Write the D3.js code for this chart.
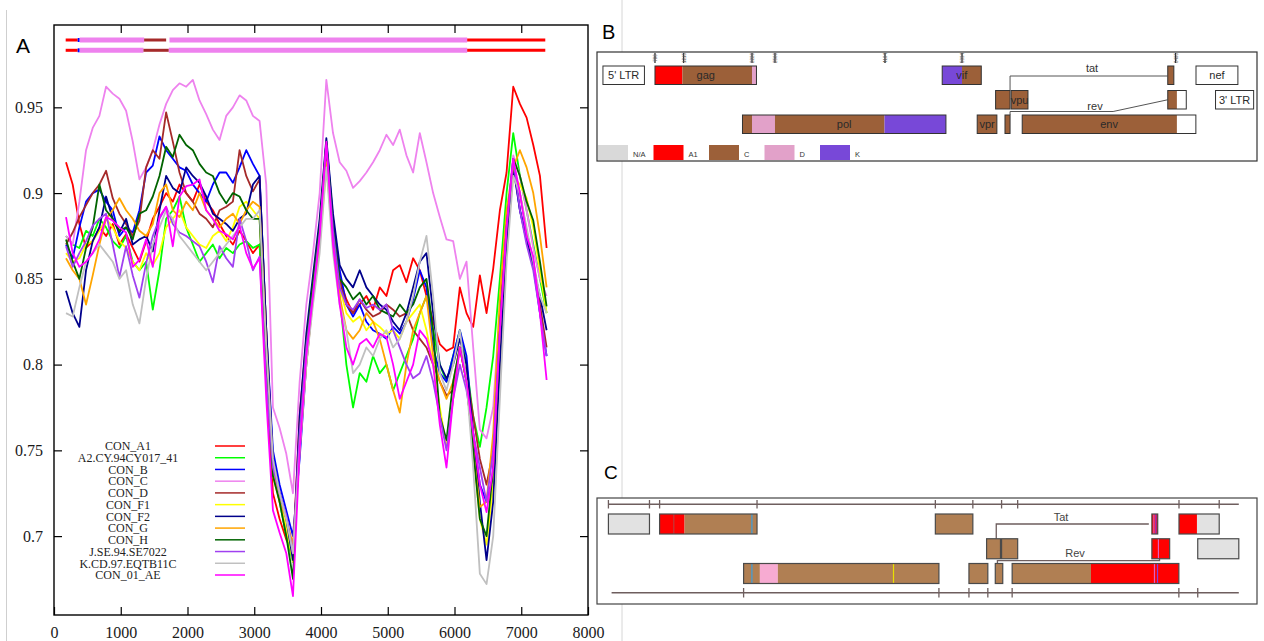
<!DOCTYPE html>
<html><head><meta charset="utf-8">
<script src="https://cdn.jsdelivr.net/npm/d3@7"></script>
<style>body{margin:0;background:#fff;} svg{display:block} .ax text{font-family:"Liberation Serif","Times New Roman",serif !important;}</style>
</head><body>
<svg id="c" width="1264" height="641"></svg>
<script>
// ---------------- DATA : panel A ----------------
const positions = [180,280,380,480,580,680,780,880,980,1080,1180,1280,1380,1480,1580,1680,1780,1880,1980,2080,
 2180,2280,2380,2480,2580,2680,2780,2880,2980,3080,3180,3280,3380,3480,3580,3680,3780,3880,3980,4080,
 4180,4280,4380,4480,4580,4680,4780,4880,4980,5080,5180,5280,5380,5480,5580,5680,5780,5880,5980,6080,
 6180,6280,6380,6480,6580,6680,6780,6880,6980,7080,7180,7280,7380];

const conA1 = [0.918,0.905,0.882,0.868,0.872,0.880,0.875,0.882,0.870,0.876,0.868,0.860,0.872,0.885,0.892,0.900,0.895,0.905,0.900,0.895,0.905,0.895,0.890,0.882,0.875,0.870,0.878,0.872,0.865,0.870,
 0.790,0.725,0.710,0.698,0.690,0.770,0.815,0.845,0.878,0.922,0.880,0.850,
 0.838,0.830,0.835,0.840,0.832,0.845,0.840,0.855,0.858,0.848,0.862,0.855,0.840,0.825,0.812,0.808,0.810,0.845,0.830,0.822,0.852,0.830,0.856,0.890,0.912,0.962,0.952,0.944,0.928,0.910,0.868];
const a2CY = [0.875,0.870,0.868,0.878,0.875,0.885,0.880,0.872,0.868,0.875,0.860,0.855,0.860,0.832,0.855,0.885,0.890,0.898,0.880,0.870,0.860,0.865,0.870,0.862,0.868,0.865,0.870,0.872,0.868,0.870,
 0.800,0.740,0.720,0.700,0.685,0.755,0.805,0.842,0.875,0.925,0.875,0.840,
 0.800,0.775,0.795,0.790,0.805,0.795,0.800,0.785,0.795,0.805,0.815,0.830,0.840,0.820,0.800,0.790,0.805,0.820,0.800,0.770,0.752,0.775,0.805,0.850,0.900,0.935,0.910,0.890,0.870,0.850,0.830];
const conB = [0.870,0.862,0.880,0.895,0.900,0.902,0.895,0.890,0.875,0.880,0.877,0.890,0.912,0.916,0.933,0.925,0.920,0.915,0.913,0.905,0.900,0.895,0.905,0.912,0.912,0.906,0.915,0.925,0.917,0.910,
 0.820,0.750,0.730,0.715,0.700,0.745,0.800,0.840,0.875,0.930,0.885,0.855,
 0.835,0.828,0.835,0.825,0.820,0.818,0.815,0.822,0.818,0.825,0.838,0.855,0.845,0.810,0.795,0.790,0.805,0.820,0.805,0.760,0.730,0.720,0.735,0.800,0.870,0.918,0.890,0.875,0.858,0.830,0.805];
const conC = [0.875,0.870,0.895,0.925,0.938,0.945,0.962,0.958,0.955,0.948,0.930,0.908,0.915,0.925,0.940,0.952,0.960,0.964,0.962,0.966,0.954,0.946,0.937,0.931,0.945,0.950,0.957,0.954,0.945,0.942,
 0.905,0.775,0.763,0.748,0.725,0.790,0.835,0.865,0.900,0.966,0.935,0.918,
 0.913,0.903,0.907,0.912,0.918,0.925,0.934,0.928,0.937,0.922,0.912,0.935,0.918,0.900,0.886,0.873,0.872,0.850,0.860,0.810,0.762,0.757,0.775,0.835,0.885,0.922,0.910,0.890,0.868,0.850,0.840];
const conD = [0.870,0.877,0.886,0.893,0.900,0.905,0.913,0.897,0.888,0.882,0.875,0.884,0.915,0.925,0.920,0.947,0.930,0.912,0.900,0.895,0.888,0.885,0.880,0.890,0.892,0.895,0.925,0.910,0.901,0.908,
 0.820,0.740,0.725,0.710,0.690,0.755,0.805,0.840,0.875,0.925,0.878,0.848,
 0.835,0.830,0.838,0.832,0.828,0.830,0.835,0.832,0.828,0.830,0.820,0.815,0.810,0.800,0.790,0.782,0.785,0.810,0.795,0.770,0.745,0.730,0.750,0.830,0.880,0.915,0.900,0.878,0.860,0.835,0.810];
const conF1 = [0.865,0.860,0.862,0.870,0.872,0.878,0.885,0.880,0.872,0.868,0.860,0.855,0.865,0.858,0.865,0.880,0.885,0.890,0.880,0.875,0.870,0.868,0.875,0.878,0.872,0.880,0.892,0.895,0.890,0.885,
 0.810,0.735,0.720,0.705,0.685,0.755,0.805,0.840,0.870,0.915,0.875,0.845,
 0.830,0.825,0.828,0.820,0.825,0.822,0.818,0.820,0.815,0.825,0.830,0.835,0.820,0.800,0.775,0.752,0.780,0.810,0.790,0.750,0.710,0.695,0.730,0.800,0.870,0.910,0.905,0.897,0.880,0.855,0.830];
const conF2 = [0.843,0.830,0.822,0.855,0.872,0.880,0.898,0.885,0.877,0.885,0.870,0.873,0.875,0.866,0.890,0.910,0.903,0.900,0.915,0.910,0.906,0.898,0.888,0.885,0.882,0.878,0.885,0.888,0.905,0.910,
 0.820,0.745,0.725,0.710,0.686,0.770,0.818,0.852,0.885,0.932,0.888,0.858,
 0.850,0.845,0.855,0.845,0.840,0.835,0.832,0.825,0.820,0.830,0.845,0.860,0.865,0.830,0.800,0.792,0.800,0.815,0.800,0.760,0.720,0.686,0.720,0.800,0.870,0.915,0.890,0.872,0.857,0.840,0.820];
const conG = [0.862,0.855,0.850,0.835,0.852,0.870,0.885,0.890,0.897,0.890,0.885,0.878,0.875,0.882,0.900,0.905,0.890,0.886,0.895,0.890,0.900,0.890,0.885,0.880,0.885,0.888,0.882,0.890,0.895,0.892,
 0.810,0.740,0.720,0.710,0.695,0.750,0.800,0.838,0.872,0.918,0.872,0.840,
 0.820,0.815,0.820,0.830,0.825,0.815,0.800,0.785,0.772,0.800,0.820,0.830,0.840,0.805,0.790,0.780,0.790,0.810,0.790,0.750,0.717,0.720,0.760,0.840,0.890,0.915,0.925,0.915,0.900,0.875,0.845];
const conH = [0.873,0.860,0.850,0.868,0.880,0.905,0.890,0.885,0.878,0.880,0.873,0.888,0.890,0.898,0.910,0.927,0.921,0.934,0.928,0.925,0.917,0.912,0.910,0.900,0.894,0.900,0.898,0.890,0.885,0.885,
 0.800,0.735,0.720,0.700,0.675,0.760,0.812,0.848,0.880,0.930,0.880,0.850,
 0.845,0.838,0.842,0.835,0.840,0.832,0.830,0.828,0.835,0.830,0.835,0.845,0.850,0.820,0.770,0.756,0.790,0.810,0.790,0.750,0.710,0.700,0.740,0.820,0.880,0.920,0.910,0.895,0.884,0.860,0.834];
const jSE = [0.869,0.857,0.865,0.872,0.881,0.885,0.888,0.870,0.851,0.869,0.852,0.839,0.859,0.875,0.885,0.892,0.882,0.877,0.875,0.872,0.869,0.860,0.848,0.869,0.862,0.857,0.885,0.872,0.855,0.863,
 0.790,0.740,0.725,0.712,0.690,0.760,0.810,0.842,0.877,0.928,0.878,0.845,
 0.835,0.832,0.838,0.833,0.835,0.832,0.835,0.820,0.810,0.800,0.792,0.795,0.805,0.790,0.770,0.750,0.780,0.800,0.785,0.760,0.740,0.720,0.750,0.820,0.880,0.920,0.890,0.870,0.855,0.830,0.805];
const kCD = [0.830,0.828,0.845,0.860,0.865,0.870,0.865,0.860,0.850,0.855,0.835,0.824,0.850,0.870,0.880,0.890,0.885,0.875,0.870,0.865,0.860,0.855,0.860,0.865,0.870,0.875,0.880,0.885,0.885,0.890,
 0.810,0.745,0.725,0.710,0.690,0.750,0.800,0.835,0.865,0.915,0.865,0.835,
 0.820,0.795,0.800,0.810,0.805,0.815,0.820,0.810,0.815,0.825,0.840,0.860,0.875,0.840,0.795,0.785,0.800,0.820,0.790,0.740,0.678,0.672,0.700,0.780,0.860,0.910,0.900,0.880,0.860,0.840,0.830];
const con01AE = [0.886,0.865,0.857,0.860,0.865,0.873,0.886,0.884,0.880,0.877,0.857,0.861,0.873,0.857,0.886,0.892,0.869,0.898,0.904,0.905,0.908,0.890,0.885,0.878,0.876,0.873,0.881,0.865,0.856,0.862,
 0.780,0.715,0.702,0.690,0.665,0.750,0.805,0.840,0.875,0.930,0.870,0.835,
 0.810,0.800,0.812,0.815,0.810,0.818,0.816,0.800,0.780,0.790,0.800,0.820,0.815,0.800,0.765,0.740,0.780,0.810,0.790,0.760,0.730,0.714,0.740,0.820,0.880,0.920,0.900,0.875,0.863,0.830,0.791];

const seriesNames = ["CON_A1","A2.CY.94CY017_41","CON_B","CON_C","CON_D","CON_F1","CON_F2","CON_G","CON_H","J.SE.94.SE7022","K.CD.97.EQTB11C","CON_01_AE"];
const seriesValues = [conA1,a2CY,conB,conC,conD,conF1,conF2,conG,conH,jSE,kCD,con01AE];
const seriesColors = ["#ff0000","#00ff00","#0000ff","#ee82ee","#a52a2a","#ffff00","#00008b","#ffa500","#006400","#a040f0","#c0c0c0","#ff00ff"];

const xTicks = [0,1000,2000,3000,4000,5000,6000,7000,8000];
const yTicks = [0.7,0.75,0.8,0.85,0.9,0.95];

// mosaic bars at top of panel A (row, from, to, subtype)
const mosaicRow = [0,0,0,0,0,0,1,1,1,1,1,1];
const mosaicFrom = [175,355,385,1350,1730,6190, 175,355,385,1340,1720,6190];
const mosaicTo   = [355,385,1350,1680,6190,7360, 355,385,1340,1720,6190,7360];
const mosaicSub  = ["A1","B","C","D","C","A1", "A1","B","C","D","C","A1"];
const mosaicColor = {A1:"#ff0000", B:"#0000ff", C:"#ee82ee", D:"#a52a2a"};
const mosaicWidth = {A1:3, B:4, C:5, D:3};

// ---------------- DATA : panels B and C (HXB2 gene map) ----------------
const geneNames = ["5' LTR","gag","vif","tat2","nef","tat1","vpu","rev2","3' LTR","pol","vpr","rev1","env"];
const geneRow   = [0,0,0,0,0,1,1,1,1,2,2,2,2];
const geneStartB = [20,790,5041,8379,8797,5831,6062,8379,9086,2085,5559,5970,6225];
const geneEndB   = [634,2292,5619,8469,9417,6045,6310,8653,9650,5096,5850,6045,8795];
const geneLabelB = ["5' LTR","gag","vif","","nef","","vpu","","3' LTR","pol","vpr","","env"];
const geneStartC = [1,790,5041,8379,8797,5831,6062,8379,9086,2085,5559,5965,6225];
const geneEndC   = [634,2292,5619,8469,9417,6045,6310,8653,9719,5096,5850,6080,8795];

// B subtype segments: [gene, start, end, subtype]
const segB = [["gag",790,1196,"A1"],["gag",1196,2226,"C"],["gag",2226,2292,"D"],
 ["pol",2085,2226,"C"],["pol",2226,2566,"D"],["pol",2566,4187,"C"],["pol",4187,5096,"K"],
 ["vif",5041,5334,"K"],["vif",5334,5619,"C"],["vpr",5559,5850,"C"],["tat1",5831,6045,"C"],
 ["rev1",5970,6045,"C"],["vpu",6062,6310,"C"],["env",6225,8514,"C"],["tat2",8379,8469,"C"],["rev2",8379,8514,"C"]];
const breakB = [790,1215,2226,2566,4194,5334,8495];
const legendSubB = ["N/A","A1","C","D","K"];
const colorB = {"N/A":"#d9d9d9", A1:"#ff0000", C:"#9c6039", D:"#e2a1c9", K:"#7848d8"};

// C subtype segments
const segC = [["5' LTR",1,634,"N/A"],["gag",790,1175,"A1"],["gag",1175,2292,"C"],["vif",5041,5619,"C"],
 ["tat2",8379,8469,"A1"],["nef",8797,9074,"A1"],["nef",9074,9417,"N/A"],["tat1",5831,6045,"C"],
 ["vpu",6062,6310,"C"],["rev2",8379,8653,"A1"],["3' LTR",9086,9719,"N/A"],
 ["pol",2085,2336,"C"],["pol",2336,2613,"D"],["pol",2613,5096,"C"],["vpr",5559,5850,"C"],
 ["rev1",5965,6080,"C"],["env",6225,7440,"C"],["env",7440,8795,"A1"]];
const markC = [["gag",1009,"#c03a3a"],["gag",2213,"#3aa0e0"],["pol",2213,"#3aa0e0"],["pol",4396,"#e8e000"],
 ["tat2",8410,"#e060c0"],["tat2",8440,"#8040e0"],["rev2",8480,"#e060c0"],["env",8419,"#e060c0"],["env",8466,"#8040e0"]];
const colorC = {"N/A":"#e2e2e2", A1:"#ff0000", C:"#b07f53", D:"#f7abd2"};
const rulerTopC = [1,634,790,2292,5041,5619,6062,6310,8797,9417];
const rulerBotC = [2085,5096,5559,5850,6225,8795,9086];

// ---------------- DRAW ----------------
const svg = d3.select("#c");
svg.append("line").attr("x1",6.5).attr("x2",6.5).attr("y1",10).attr("y2",641).attr("stroke","#cfcfcf");
svg.append("line").attr("x1",622).attr("x2",622).attr("y1",0).attr("y2",641).attr("stroke","#d6d6d6");

// Panel A
const x = d3.scaleLinear().domain([0,8000]).range([54,588]);
const y = d3.scaleLinear().domain([0.654,0.998]).range([615,25]);
const serif = "'Liberation Serif','Times New Roman',serif";

svg.append("text").attr("x",16).attr("y",53).attr("font-family","'Liberation Sans',Arial,sans-serif")
  .attr("font-size",21).text("A");

const gA = svg.append("g");
gA.append("rect").attr("x",x(0)).attr("y",y(0.998)).attr("width",x(8000)-x(0)).attr("height",y(0.654)-y(0.998))
  .attr("fill","#fff").attr("stroke","#000").attr("stroke-width",1.4);

function styleAxis(g){
  g.attr("class","ax").attr("font-family",serif).attr("font-size",16);
  g.select(".domain").remove();
  g.selectAll(".tick line").attr("stroke","#000").attr("stroke-width",1.2);
  g.selectAll(".tick text").style("font-family",serif).style("font-size","16px").attr("fill","#1a1a1a");
}
gA.append("g").attr("transform",`translate(0,${y(0.654)})`)
  .call(d3.axisBottom(x).tickValues(xTicks).tickSize(-8).tickPadding(12).tickFormat(d3.format("d"))).call(styleAxis);
gA.append("g").attr("transform",`translate(0,${y(0.998)})`)
  .call(d3.axisTop(x).tickValues(xTicks.slice(1,-1)).tickSize(-8).tickFormat("")).call(styleAxis);
gA.append("g").attr("transform",`translate(${x(0)},0)`)
  .call(d3.axisLeft(y).tickValues(yTicks).tickSize(-8).tickPadding(11).tickFormat(d3.format(".2~f"))).call(styleAxis);
gA.append("g").attr("transform",`translate(${x(8000)},0)`)
  .call(d3.axisRight(y).tickValues(yTicks).tickSize(-8).tickFormat("")).call(styleAxis);

// mosaic bars
const mosaicY = d3.scalePoint().domain([0,1]).range([40,50.3]);
gA.selectAll("line.mos").data(mosaicSub.map((s,i)=>({s,i}))).enter().append("line")
  .attr("x1",d=>x(mosaicFrom[d.i])).attr("x2",d=>x(mosaicTo[d.i]))
  .attr("y1",d=>mosaicY(mosaicRow[d.i])).attr("y2",d=>mosaicY(mosaicRow[d.i]))
  .attr("stroke",d=>mosaicColor[d.s]).attr("stroke-width",d=>mosaicWidth[d.s]);

// series lines
const line = d3.line().x((d,i)=>x(positions[i])).y(d=>y(d));
seriesValues.forEach((vals,k)=>{
  gA.append("path").datum(vals).attr("d",line).attr("fill","none")
    .attr("stroke",seriesColors[k]).attr("stroke-width",1.8).attr("stroke-linejoin","round");
});

// legend
const legY = d3.scalePoint().domain(seriesNames).range([446,575]);
const leg = gA.append("g");
seriesNames.forEach((n,k)=>{
  leg.append("text").attr("x",128).attr("y",legY(n)+4.3).attr("text-anchor","middle")
    .attr("font-family",serif).attr("font-size",12).attr("fill","#222").text(n);
  leg.append("line").attr("x1",215).attr("x2",245).attr("y1",legY(n)).attr("y2",legY(n))
    .attr("stroke",seriesColors[k]).attr("stroke-width",1.5);
});

// Panel B
const sans = "'Liberation Sans',Arial,sans-serif";
svg.append("text").attr("x",602).attr("y",39).attr("font-family",sans).attr("font-size",20).text("B");
const gB = svg.append("g");
gB.append("rect").attr("x",597).attr("y",52).attr("width",660).attr("height",109)
  .attr("fill","#fff").attr("stroke","#333").attr("stroke-width",1.2);
const xb = d3.scaleLinear().domain([0,9719]).range([601.6,1258.3]);
const rowB = d3.scalePoint().domain([0,1,2]).range([66,115]);
const hB = 18.5;
const gIdx = n => geneNames.indexOf(n);

// breakpoint ruler
breakB.forEach(p=>{
  gB.append("line").attr("x1",xb(p)).attr("x2",xb(p)).attr("y1",53).attr("y2",63).attr("stroke","#222").attr("stroke-width",1.2);
  gB.append("text").attr("transform",`translate(${xb(p)+2},58) rotate(-90)`).attr("text-anchor","middle")
    .attr("font-family",sans).attr("font-size",4.5).attr("fill","#555").text(p);
});
// connectors
const tatYB = 76;
gB.append("path").attr("d",`M${xb(6045)},${rowB(1)} V${tatYB} H${xb(8379)}`).attr("fill","none").attr("stroke","#555").attr("stroke-width",1);
gB.append("text").attr("x",1092).attr("y",tatYB-4).attr("text-anchor","middle").attr("font-family",sans).attr("font-size",11).attr("fill","#333").text("tat");
gB.append("path").attr("d",`M${xb(6045)},${rowB(2)} V111.5 H${xb(7570)} L${xb(8379)},${rowB(1)+hB/2}`).attr("fill","none").attr("stroke","#555").attr("stroke-width",1);
gB.append("text").attr("x",1095).attr("y",110).attr("text-anchor","middle").attr("font-family",sans).attr("font-size",11).attr("fill","#333").text("rev");

geneNames.forEach((n,i)=>{
  gB.append("rect").attr("x",xb(geneStartB[i])).attr("y",rowB(geneRow[i])).attr("width",xb(geneEndB[i])-xb(geneStartB[i])).attr("height",hB).attr("fill","#fff");
});
segB.forEach(s=>{
  const i=gIdx(s[0]);
  gB.append("rect").attr("x",xb(s[1])).attr("y",rowB(geneRow[i])).attr("width",xb(s[2])-xb(s[1])).attr("height",hB).attr("fill",colorB[s[3]]);
});
geneNames.forEach((n,i)=>{
  gB.append("rect").attr("x",xb(geneStartB[i])).attr("y",rowB(geneRow[i])).attr("width",xb(geneEndB[i])-xb(geneStartB[i])).attr("height",hB)
    .attr("fill","none").attr("stroke","#333").attr("stroke-width",1);
  if(geneLabelB[i]) gB.append("text").attr("x",(xb(geneStartB[i])+xb(geneEndB[i]))/2).attr("y",rowB(geneRow[i])+hB/2+4)
    .attr("text-anchor","middle").attr("font-family",sans).attr("font-size",11).attr("fill","#2a2a2a").text(geneLabelB[i]);
});
// B legend
const legB = d3.scaleBand().domain(legendSubB).range([598,875.5]);
legendSubB.forEach(s=>{
  gB.append("rect").attr("x",legB(s)).attr("y",145).attr("width",30).attr("height",15).attr("fill",colorB[s]);
  gB.append("text").attr("x",legB(s)+35).attr("y",157).attr("font-family",sans).attr("font-size",7.5).attr("fill","#333").text(s);
});

// Panel C
svg.append("text").attr("x",604).attr("y",479).attr("font-family",sans).attr("font-size",19).text("C");
const gC = svg.append("g");
gC.append("rect").attr("x",597).attr("y",498).attr("width",660).attr("height",106)
  .attr("fill","#fff").attr("stroke","#444").attr("stroke-width",1.2);
const xc = d3.scaleLinear().domain([0,9719]).range([608.35,1238.8]);
const rowC = d3.scalePoint().domain([0,1,2]).range([514,563.5]);
const hC = 20;
const lineC = "#6e5e5e";
gC.append("line").attr("x1",xc(1)).attr("x2",xc(9719)).attr("y1",504.3).attr("y2",504.3).attr("stroke",lineC).attr("stroke-width",1.5);
rulerTopC.forEach(p=>gC.append("line").attr("x1",xc(p)).attr("x2",xc(p)).attr("y1",500).attr("y2",508.5).attr("stroke",lineC).attr("stroke-width",1.3));
gC.append("line").attr("x1",xc(50)).attr("x2",xc(9719)).attr("y1",592.7).attr("y2",592.7).attr("stroke",lineC).attr("stroke-width",1.5);
rulerBotC.forEach(p=>gC.append("line").attr("x1",xc(p)).attr("x2",xc(p)).attr("y1",588).attr("y2",597.5).attr("stroke",lineC).attr("stroke-width",1.3));
// connectors
gC.append("path").attr("d",`M${xc(5980)},${rowC(1)} V524 H${xc(8332)}`).attr("fill","none").attr("stroke",lineC).attr("stroke-width",1.3);
gC.append("text").attr("x",1061).attr("y",521).attr("text-anchor","middle").attr("font-family",sans).attr("font-size",11).attr("fill","#444").text("Tat");
gC.append("path").attr("d",`M${xc(5998)},${rowC(2)} V560.7 H${xc(8497)} V${rowC(1)+hC}`).attr("fill","none").attr("stroke",lineC).attr("stroke-width",1.3);
gC.append("text").attr("x",1075).attr("y",557).attr("text-anchor","middle").attr("font-family",sans).attr("font-size",11).attr("fill","#444").text("Rev");

segC.forEach(s=>{
  const i=gIdx(s[0]);
  gC.append("rect").attr("x",xc(s[1])).attr("y",rowC(geneRow[i])).attr("width",xc(s[2])-xc(s[1])).attr("height",hC).attr("fill",colorC[s[3]]);
});
markC.forEach(m=>{
  const i=gIdx(m[0]);
  gC.append("line").attr("x1",xc(m[1])).attr("x2",xc(m[1])).attr("y1",rowC(geneRow[i])).attr("y2",rowC(geneRow[i])+hC).attr("stroke",m[2]).attr("stroke-width",1.2);
});
geneNames.forEach((n,i)=>{
  gC.append("rect").attr("x",xc(geneStartC[i])).attr("y",rowC(geneRow[i])).attr("width",xc(geneEndC[i])-xc(geneStartC[i])).attr("height",hC)
    .attr("fill","none").attr("stroke","#4a4a4a").attr("stroke-width",1.2);
});
</script>
</body></html>
